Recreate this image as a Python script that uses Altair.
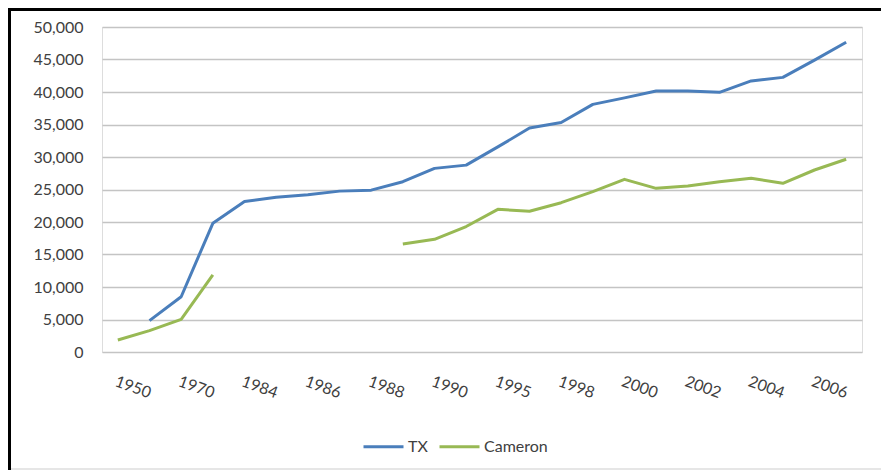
import altair as alt
import pandas as pd

categories = ["1950", "1960", "1970", "1980", "1984", "1985", "1986", "1987",
              "1988", "1989", "1990", "1993", "1995", "1997", "1998", "1999",
              "2000", "2001", "2002", "2003", "2004", "2005", "2006", "2007"]
shown_labels = ["1950", "1970", "1984", "1986", "1988", "1990", "1995", "1998",
                "2000", "2002", "2004", "2006"]

tx_values = [None, 4820, 8500, 19800, 23150, 23800, 24200, 24750,
             24900, 26200, 28250, 28750, 31550, 34450, 35300, 38100,
             39100, 40150, 40150, 39950, 41700, 42250, 44900, 47650]
cameron_values = [1850, 3280, 5030, 11850, None, None, None, None,
                  None, 16600, 17330, 19300, 21950, 21650, 22970, 24670,
                  26560, 25180, 25540, 26200, 26720, 25950, 28000, 29650]

series_names = ["TX", "Cameron"]
series_colors = ["#4A7EBB", "#98B954"]
y_ticks = [0, 5000, 10000, 15000, 20000, 25000, 30000, 35000, 40000, 45000, 50000]

rows = []
for name, vals in zip(series_names, [tx_values, cameron_values]):
    seg = 0
    prev_none = True
    for cat, v in zip(categories, vals):
        if v is None:
            prev_none = True
            continue
        if prev_none:
            seg += 1
            prev_none = False
        rows.append({"year": cat, "value": v, "series": name, "segment": f"{name}-{seg}"})
df = pd.DataFrame(rows)

FONT = "Lato"
TEXT = "#404040"

lines = alt.Chart(df).mark_line(strokeWidth=3, strokeJoin="round").encode(
    x=alt.X("year:N", sort=categories,
            scale=alt.Scale(type="point", domain=categories, padding=0.5),
            axis=alt.Axis(title=None, values=shown_labels, labelAngle=20,
                          labelAlign="left", labelBaseline="top", labelPadding=21,
                          ticks=False, domain=False, grid=False,
                          labelFont=FONT, labelFontSize=16, labelColor=TEXT)),
    y=alt.Y("value:Q", scale=alt.Scale(domain=[0, 50000], nice=False),
            axis=alt.Axis(title=None, values=y_ticks, format=",.0f", ticks=False,
                          domain=False, labelPadding=19, labelFont=FONT,
                          labelFontSize=16, labelColor=TEXT,
                          gridColor="#C4C4C4", gridWidth=1.6)),
    color=alt.Color("series:N", scale=alt.Scale(domain=series_names, range=series_colors),
                    legend=alt.Legend(title=None, orient="none", legendX=260, legendY=398,
                                      direction="horizontal", symbolType="stroke",
                                      symbolSize=1600, symbolStrokeWidth=3,
                                      labelFont=FONT, labelFontSize=16, labelColor=TEXT,
                                      labelOffset=3, columnPadding=5)),
    detail="segment:N",
)

left_border = alt.Chart().mark_rule(color="black", strokeWidth=3).encode(
    x=alt.value(-92.5), y=alt.value(-19), y2=alt.value(443))
top_border = alt.Chart().mark_rule(color="black", strokeWidth=3).encode(
    x=alt.value(-94), x2=alt.value(787), y=alt.value(-17.5))
bottom_border = alt.Chart().mark_rule(color="#E6E6E6", strokeWidth=2).encode(
    x=alt.value(-91), x2=alt.value(787), y=alt.value(442))

chart = alt.layer(lines, left_border, top_border, bottom_border).properties(
    width=760, height=325,
    autosize=alt.AutoSizeParams(type="none"),
    padding={"left": 94, "top": 19, "right": 19, "bottom": 118},
).configure_view(stroke=None).configure(background="white")

chart.save("out.html", embed_options={"renderer": "svg", "actions": False})
